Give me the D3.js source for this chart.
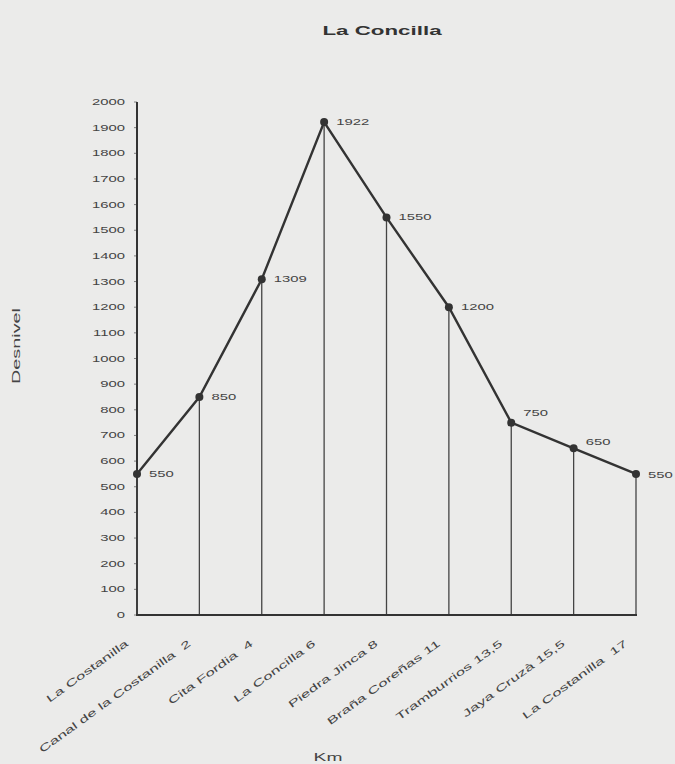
<!DOCTYPE html>
<html><head><meta charset="utf-8">
<script src="https://cdn.jsdelivr.net/npm/d3@7"></script>
<style>body{margin:0;background:#ebebea;}svg{display:block;}text{white-space:pre;}</style>
</head><body>
<script>
const categories = ["La Costanilla", "Canal de la Costanilla  2", "Cita Fordia  4", "La Concilla 6", "Piedra Jinca 8", "Braña Coreñas 11", "Tramburrios 13,5", "Jaya Cruzà 15,5", "La Costanilla  17"];
const values = [550, 850, 1309, 1922, 1550, 1200, 750, 650, 550];
const yTicks = [0,100,200,300,400,500,600,700,800,900,1000,1100,1200,1300,1400,1500,1600,1700,1800,1900,2000];
// style: vertical nudge of each value label
const labelNudge = [0, 0, 0, 0, 0, 0, -10, -6, 1];

const W = 675, H = 764, SX = 1.65;
const svg = d3.select("body").append("svg").attr("width", W).attr("height", H)
  .style("font-family", "Arial, 'Liberation Sans', sans-serif");
svg.append("rect").attr("width", W).attr("height", H).attr("fill", "#ebebea");

const x = d3.scalePoint().domain(categories).range([137, 636]);
const y = d3.scaleLinear().domain([0, 2000]).range([615, 102]);

function wideText(g, tx, ty, rot, sx, txt, opts) {
  const t = g.append("text")
    .attr("transform", `translate(${tx},${ty}) rotate(${rot}) scale(${sx},1)`)
    .attr("text-anchor", opts.anchor || "start")
    .attr("font-size", opts.size).attr("fill", opts.fill || "#444")
    .attr("xml:space", "preserve")
    .text(txt);
  if (opts.weight) t.attr("font-weight", opts.weight);
  return t;
}

wideText(svg, 382, 35, 0, 1.72, "La Concilla", {anchor: "middle", size: 13, weight: "bold", fill: "#333"});
wideText(svg, 20, 346, -90, 1.8, "Desnivel", {anchor: "middle", size: 11});
wideText(svg, 328, 761, 0, 1.75, "Km", {anchor: "middle", size: 11});

// y axis tick labels via scale
yTicks.forEach(d => {
  wideText(svg, 125, y(d) + 3, 0, SX, d3.format("d")(d), {anchor: "end", size: 9});
});
svg.selectAll(".ytk").data(yTicks).enter().append("line")
  .attr("x1", 134).attr("x2", 137).attr("y1", d => y(d)).attr("y2", d => y(d))
  .attr("stroke", "#666").attr("stroke-width", 0.8);
svg.append("line").attr("x1", 137).attr("x2", 137).attr("y1", y(2000)).attr("y2", y(0))
  .attr("stroke", "#333").attr("stroke-width", 2);

// drop lines
svg.selectAll(".drop").data(values).enter().append("line")
  .attr("x1", (d,i)=>x(categories[i])).attr("x2", (d,i)=>x(categories[i]))
  .attr("y1", d=>y(d)).attr("y2", y(0)).attr("stroke", "#444").attr("stroke-width", 1.3);

// x axis
svg.append("line").attr("x1", 136).attr("x2", 637).attr("y1", y(0)).attr("y2", y(0))
  .attr("stroke", "#333").attr("stroke-width", 2);
categories.forEach(c => {
  wideText(svg, x(c) - 8, 645, -36, 1.7, c, {anchor: "end", size: 10});
});

// line
const line = d3.line().x((d,i)=>x(categories[i])).y(d=>y(d));
svg.append("path").datum(values).attr("d", line).attr("fill", "none")
  .attr("stroke", "#333").attr("stroke-width", 2.4);
svg.selectAll(".pt").data(values).enter().append("circle")
  .attr("cx", (d,i)=>x(categories[i])).attr("cy", d=>y(d)).attr("r", 4).attr("fill", "#333");
values.forEach((v, i) => {
  wideText(svg, x(categories[i]) + 12, y(v) + 3 + labelNudge[i], 0, SX, v, {size: 9});
});
</script>
</body></html>
